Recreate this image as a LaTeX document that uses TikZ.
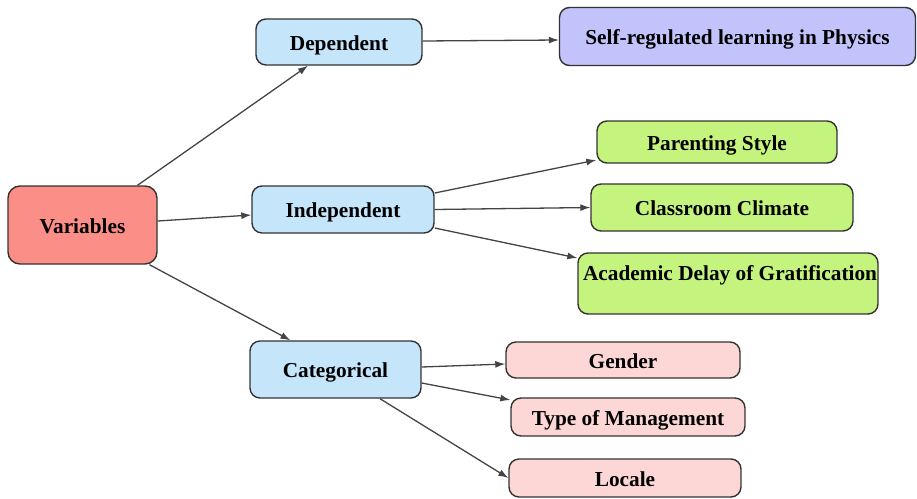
\documentclass[tikz,border=0pt]{standalone}
\usepackage{fontspec}
\setmainfont{Liberation Serif}
\usetikzlibrary{arrows.meta}
\definecolor{varfill}{HTML}{FB8F88}
\definecolor{bluefill}{HTML}{C5E5FA}
\definecolor{purpfill}{HTML}{C3C3FC}
\definecolor{greenfill}{HTML}{C4F47E}
\definecolor{pinkfill}{HTML}{FDD7D5}
\definecolor{edgecol}{HTML}{333333}
\definecolor{arrcol}{HTML}{444444}
\tikzset{
  boxbase/.style={draw=edgecol, line width=1.4pt, rounded corners=10pt, inner sep=0pt,
    font=\fontsize{21.3}{25}\selectfont\bfseries, text=black, align=center,
    text height=18pt, text depth=2pt},
  varbox/.style={boxbase, fill=varfill, rounded corners=12pt},
  bluebox/.style={boxbase, fill=bluefill},
  purpbox/.style={boxbase, fill=purpfill},
  greenbox/.style={boxbase, fill=greenfill},
  pinkbox/.style={boxbase, fill=pinkfill},
  conn/.style={draw=arrcol, line width=1.3pt, -{Latex[length=10pt,width=7pt]}}
}
\begin{document}
\begin{tikzpicture}[x=1pt,y=-1pt]
\useasboundingbox (0,0) rectangle (917,498);
\node[varbox, minimum width=149pt, minimum height=78pt] (var) at (82.5,225) {Variables};
\node[bluebox, minimum width=166pt, minimum height=46pt] (dep) at (339,42) {Dependent};
\node[bluebox, minimum width=182pt, minimum height=47pt] (ind) at (343,209.5) {Independent};
\node[bluebox, minimum width=171pt, minimum height=57pt] (cat) at (335.5,369.5) {Categorical};
\node[purpbox, minimum width=356pt, minimum height=58pt] (self) at (737.5,36.5) {Self-regulated learning in Physics};
\node[greenbox, minimum width=240pt, minimum height=42pt] (par) at (717,142) {Parenting Style};
\node[greenbox, minimum width=262pt, minimum height=47pt] (cls) at (722,207.5) {Classroom Climate};
\node[greenbox, minimum width=300pt, text height=27pt, text depth=34pt] (acad) at (728,283.5) {\hspace*{4pt}Academic Delay of Gratification};
\node[pinkbox, minimum width=234pt, minimum height=36pt] (gen) at (623,360) {Gender};
\node[pinkbox, minimum width=234pt, minimum height=38pt] (tom) at (628,417) {Type of Management};
\node[pinkbox, minimum width=232pt, minimum height=38pt] (loc) at (625,478) {Locale};

\draw[conn] ([xshift=55pt]var.north) -- ([xshift=-31pt]dep.south);
\draw[conn] ([yshift=4pt]var.east) -- ([yshift=-5.5pt]ind.west);
\draw[conn] ([xshift=67pt]var.south) -- ([xshift=-45pt]cat.north);
\draw[conn] ([yshift=1pt]dep.east) -- ([yshift=-3.5pt]self.west);
\draw[conn] ([yshift=16.5pt]ind.east) -- ([yshift=-18pt]par.west);
\draw[conn] (ind.east) -- (cls.west);
\draw[conn] ([yshift=-18.5pt]ind.east) -- ([yshift=25.5pt]acad.west);
\draw[conn] ([yshift=2.5pt]cat.east) -- ([yshift=-4pt]gen.west);
\draw[conn] ([yshift=-13.5pt]cat.east) -- ([yshift=17pt]tom.west);
\draw[conn] ([xshift=44.5pt]cat.south) -- (loc.west);
\end{tikzpicture}
\end{document}
